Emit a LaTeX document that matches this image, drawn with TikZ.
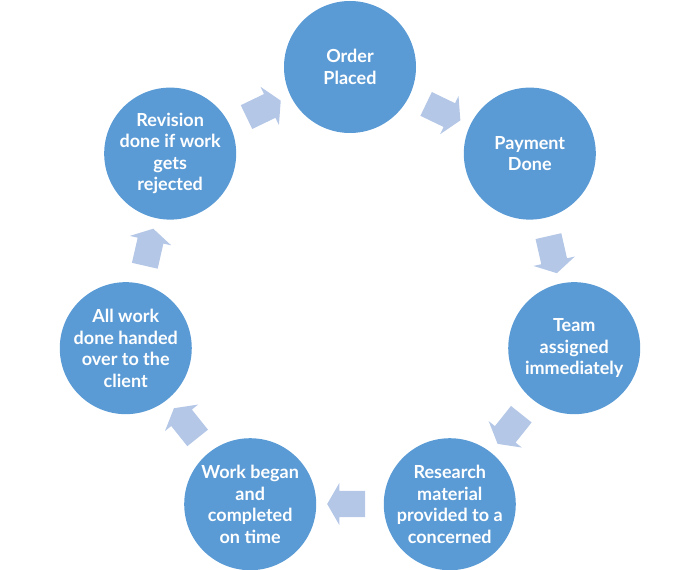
\documentclass[tikz,border=0pt]{standalone}
\usepackage{fontspec}
\setmainfont{Lato}
\usetikzlibrary{shapes.arrows}
\definecolor{circblue}{HTML}{5B9BD5}
\definecolor{arrblue}{HTML}{B4C7E7}
\begin{document}
\begin{tikzpicture}[x=1pt,y=1pt,
  stage/.style={circle,fill=circblue,draw=none,minimum size=132pt,inner sep=0pt,
    text=white,align=center,font=\bfseries\fontsize{18}{21.5}\selectfont},
  flow/.style={single arrow,fill=arrblue,draw=none,inner sep=13pt,
    minimum height=38pt,single arrow head extend=8pt,single arrow tip angle=120}]
\useasboundingbox (-350,-273) rectangle (346,297);
\def\R{230}
\def\r{207}
\node[stage] (s1) at (90:\R) {Order\\Placed};
\node[stage] (s2) at (38.571:\R) {Payment\\Done};
\node[stage] (s3) at (-12.857:\R) {Team\\assigned\\immediately};
\node[stage] (s4) at (-64.286:\R) {Research\\material\\provided to a\\concerned};
\node[stage] (s5) at (-115.714:\R) {Work began\\and\\completed\\on time};
\node[stage] (s6) at (-167.143:\R) {All work\\done handed\\over to the\\client};
\node[stage] (s7) at (141.429:\R) {Revision\\done if work\\gets\\rejected};
\node[flow,rotate=-25.714] (a12) at (64.286:\r) {};
\node[flow,rotate=-77.143] (a23) at (12.857:\r) {};
\node[flow,rotate=-128.571] (a34) at (-38.571:\r) {};
\node[flow,rotate=-180] (a45) at (-90:\r) {};
\node[flow,rotate=-231.429] (a56) at (-141.429:\r) {};
\node[flow,rotate=-282.857] (a67) at (167.143:\r) {};
\node[flow,rotate=-334.286] (a71) at (115.714:\r) {};
\end{tikzpicture}
\end{document}
